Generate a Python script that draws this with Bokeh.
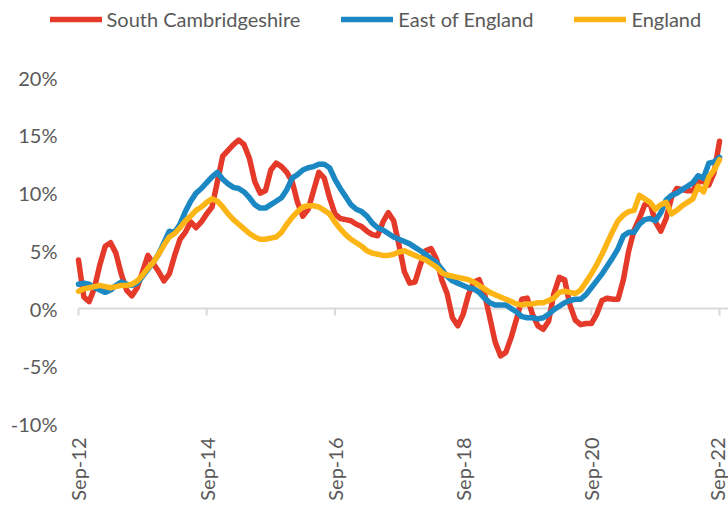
import math
from bokeh.plotting import figure
from bokeh.models import FixedTicker, PrintfTickFormatter, Legend, LegendItem
from bokeh.embed import file_html
from bokeh.resources import INLINE

# Monthly annual change (%), Sep-12 .. Sep-22
south_cambs = [
    4.2, 1.0, 0.6, 1.8, 3.8, 5.4, 5.7, 4.8, 3.0, 1.6,
    1.1, 1.8, 3.2, 4.6, 3.9, 3.2, 2.4, 3.0, 4.6, 6.0,
    6.6, 7.5, 7.0, 7.5, 8.2, 8.8, 11.0, 13.2, 13.7, 14.2,
    14.6, 14.2, 13.0, 11.0, 10.0, 10.2, 12.0, 12.6, 12.3, 11.8,
    11.0, 9.2, 8.0, 8.6, 10.2, 11.8, 11.3, 9.6, 8.2, 7.8,
    7.7, 7.6, 7.3, 7.1, 6.7, 6.4, 6.3, 7.5, 8.3, 7.6,
    5.5, 3.2, 2.2, 2.3, 3.8, 5.0, 5.2, 4.3, 2.5, 1.3,
    -0.8, -1.5, -0.5, 1.2, 2.3, 2.5, 1.3, -0.8, -2.9, -4.1,
    -3.8, -2.5, -0.9, 0.8, 0.9, -0.5, -1.5, -1.8, -1.1, 1.3,
    2.7, 2.5, 0.3, -1.0, -1.4, -1.3, -1.3, -0.5, 0.7, 0.9,
    0.8, 0.8, 2.5, 5.0, 6.8, 7.8, 9.0, 9.1, 7.5, 6.7,
    7.8, 9.6, 10.4, 10.3, 10.2, 10.2, 11.0, 11.0, 10.7, 11.8,
    14.5,
]
east_of_england = [
    2.1, 2.2, 2.1, 1.8, 1.6, 1.4, 1.6, 2.0, 2.3, 2.1,
    2.0, 2.2, 2.8, 3.4, 4.0, 4.7, 5.7, 6.7, 6.6, 7.3,
    8.4, 9.3, 10.0, 10.4, 10.9, 11.4, 11.8, 11.2, 10.8, 10.5,
    10.4, 10.1, 9.6, 9.0, 8.7, 8.7, 9.0, 9.3, 9.6, 10.3,
    11.3, 11.6, 12.0, 12.2, 12.3, 12.5, 12.5, 12.2, 11.2, 10.4,
    9.7, 9.0, 8.6, 8.4, 8.0, 7.4, 7.0, 6.8, 6.5, 6.2,
    6.0, 5.8, 5.6, 5.3, 5.0, 4.7, 4.3, 4.0, 3.4, 2.8,
    2.4, 2.2, 2.0, 1.8, 1.7, 1.4, 0.9, 0.5, 0.3, 0.3,
    0.3, 0.0, -0.3, -0.7, -0.8, -0.8, -0.9, -0.8, -0.5, -0.1,
    0.2, 0.5, 0.7, 0.8, 0.8, 1.2, 1.8, 2.4, 3.0, 3.7,
    4.4, 5.2, 6.3, 6.6, 6.6, 7.3, 7.7, 7.8, 7.6, 8.3,
    9.4, 9.8, 10.0, 10.3, 10.6, 10.9, 11.5, 11.3, 12.6, 12.7,
    13.1,
]
england = [
    1.5, 1.7, 1.8, 1.9, 2.0, 1.9, 1.8, 1.9, 2.0, 2.0,
    2.1, 2.4, 2.9, 3.5, 4.0, 4.7, 5.5, 6.2, 6.5, 7.0,
    7.6, 8.0, 8.5, 8.8, 9.2, 9.5, 9.3, 8.8, 8.2, 7.7,
    7.3, 6.9, 6.5, 6.2, 6.0, 6.0, 6.1, 6.2, 6.6, 7.3,
    7.9, 8.4, 8.8, 8.9, 8.9, 8.8, 8.5, 8.2, 7.5, 6.9,
    6.4, 6.0, 5.7, 5.4, 5.0, 4.8, 4.7, 4.6, 4.6, 4.7,
    4.9, 5.0, 4.8, 4.6, 4.4, 4.2, 3.9, 3.6, 3.1, 2.9,
    2.8, 2.7, 2.6, 2.5, 2.3, 2.0, 1.7, 1.4, 1.2, 1.0,
    0.8, 0.6, 0.4, 0.3, 0.4, 0.4, 0.5, 0.5, 0.7, 0.9,
    1.4, 1.5, 1.4, 1.3, 1.6, 2.3, 3.0, 3.8, 4.7, 5.7,
    6.7, 7.6, 8.1, 8.4, 8.5, 9.8, 9.5, 9.2, 8.6, 9.0,
    9.2, 8.2, 8.5, 8.9, 9.2, 9.5, 10.6, 10.1, 11.4, 12.0,
    12.9,
]

series_names = ["South Cambridgeshire", "East of England", "England"]
series_colors = ["#E5392A", "#1B88C3", "#FDB515"]
tick_labels = ["Sep-12", "Sep-14", "Sep-16", "Sep-18", "Sep-20", "Sep-22"]
y_ticks = [-10, -5, 0, 5, 10, 15, 20]

months = list(range(len(south_cambs)))
tick_pos = [i * 24 for i in range(len(tick_labels))]

FONT = "Lato"
TXT = "#595959"
FS = "20px"

p = figure(width=728, height=508, output_backend="svg", toolbar_location=None,
           x_range=(-5.99, 121.68), y_range=(-10.57, 26.69),
           min_border_left=46, min_border_right=0, min_border_top=0,
           min_border_bottom=78)
p.outline_line_color = None
p.xgrid.visible = False
p.ygrid.visible = False
p.background_fill_color = "white"

# zero axis line with tick marks
p.segment(x0=[months[0]], x1=[p.x_range.end], y0=[0], y1=[0],
          line_color="#D9D9D9", line_width=2)
p.segment(x0=tick_pos, x1=tick_pos, y0=[0] * len(tick_pos), y1=[-0.6] * len(tick_pos),
          line_color="#D9D9D9", line_width=2)

renderers = []
for vals, color in zip([south_cambs, east_of_england, england], series_colors):
    r = p.line(months, vals, line_color=color, line_width=5.5,
               line_cap="round", line_join="round")
    renderers.append(r)

# axes
p.xaxis.ticker = FixedTicker(ticks=tick_pos)
p.xaxis.major_label_overrides = {t: l for t, l in zip(tick_pos, tick_labels)}
p.xaxis.major_label_orientation = math.pi / 2
p.xaxis.axis_line_color = None
p.xaxis.major_tick_line_color = None
p.xaxis.minor_tick_line_color = None
p.xaxis.major_tick_out = 0
p.xaxis.major_label_standoff = 7
p.xaxis.major_label_text_font = FONT
p.xaxis.major_label_text_font_size = FS
p.xaxis.major_label_text_color = TXT

p.yaxis.ticker = FixedTicker(ticks=y_ticks)
p.yaxis.formatter = PrintfTickFormatter(format="%d%%")
p.yaxis.axis_line_color = None
p.yaxis.major_tick_line_color = None
p.yaxis.minor_tick_line_color = None
p.yaxis.major_tick_out = 0
p.yaxis.major_label_standoff = -11
p.yaxis.major_label_text_font = FONT
p.yaxis.major_label_text_font_size = FS
p.yaxis.major_label_text_color = TXT

legend = Legend(items=[LegendItem(label=n, renderers=[r]) for n, r in zip(series_names, renderers)],
                orientation="horizontal", location=(3.5, 399),
                glyph_width=52, glyph_height=20, label_height=20, label_standoff=5,
                spacing=41, padding=0, margin=0,
                border_line_color=None, background_fill_alpha=0,
                label_text_font=FONT, label_text_font_size=FS, label_text_color=TXT)
p.add_layout(legend)

open("out.html", "w").write(file_html(p, INLINE))
